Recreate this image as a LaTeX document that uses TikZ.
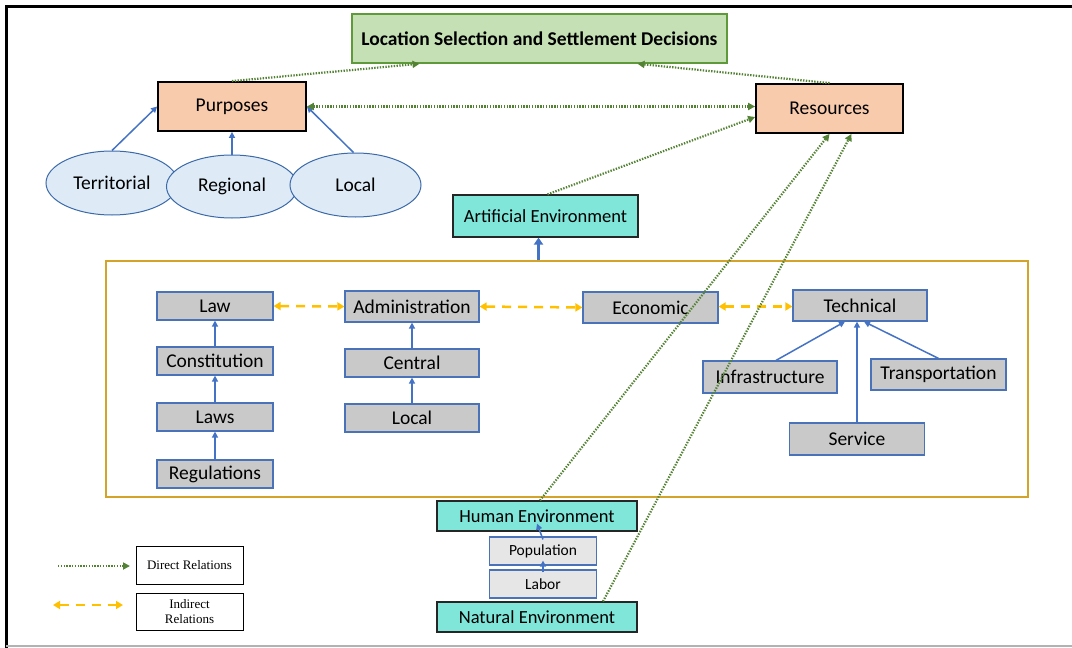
\documentclass[tikz,border=0pt]{standalone}
\usepackage{fontspec}
\setmainfont{Carlito}
\newfontfamily\legendfont{Liberation Serif}
\usetikzlibrary{arrows.meta,calc,shapes.geometric}
\definecolor{titlefill}{HTML}{C5E0B4}
\definecolor{titledraw}{HTML}{5E9A3A}
\definecolor{orangefill}{HTML}{F8CBAD}
\definecolor{ellfill}{HTML}{DEEBF7}
\definecolor{elldraw}{HTML}{3C6AA8}
\definecolor{tealfill}{HTML}{80E6DA}
\definecolor{grayfill}{HTML}{C9C9C9}
\definecolor{graydraw}{HTML}{4A72B8}
\definecolor{lightfill}{HTML}{E7E6E6}
\definecolor{goldline}{HTML}{D4A42A}
\definecolor{yellowarr}{HTML}{FFC000}
\definecolor{greenarr}{HTML}{548235}
\definecolor{bluearr}{HTML}{4472C4}
\tikzset{
  x=1pt,y=-1pt,
  titlebox/.style={draw=titledraw,fill=titlefill,line width=1.5pt,minimum width=375pt,minimum height=49pt,inner sep=0pt,font=\fontsize{19.5}{21}\selectfont\bfseries},
  orangebox/.style={draw=black,fill=orangefill,line width=1.8pt,minimum width=148pt,minimum height=49pt,inner sep=0pt,font=\fontsize{19.5}{21}\selectfont},
  ellnode/.style={ellipse,draw=elldraw,fill=ellfill,line width=1pt,minimum width=131pt,minimum height=64pt,inner sep=0pt,font=\fontsize{19.5}{21}\selectfont},
  tealbox/.style={draw=black!85,fill=tealfill,line width=1.2pt,minimum width=200pt,minimum height=30pt,inner sep=0pt,font=\fontsize{18.5}{20}\selectfont},
  graybox/.style={draw=graydraw,fill=grayfill,line width=1.2pt,minimum width=134pt,minimum height=31pt,inner sep=0pt,font=\fontsize{19.5}{21}\selectfont},
  lightbox/.style={draw=graydraw,fill=lightfill,line width=1.2pt,minimum width=107pt,minimum height=28pt,inner sep=0pt,font=\fontsize{15.5}{17}\selectfont},
  legbox/.style={draw=black,fill=white,line width=1pt,minimum width=107pt,minimum height=37pt,inner sep=0pt,align=center,font=\legendfont\fontsize{13}{15.5}\selectfont},
  bluearrow/.style={draw=bluearr,line width=1.5pt,-{Triangle[length=6pt,width=6pt]}},
  greenarrow/.style={draw=greenarr,line width=2.2pt,dash pattern=on 1.4pt off 1.4pt,-{Triangle[length=7pt,width=7pt]}},
  greenboth/.style={greenarrow,{Triangle[length=7pt,width=7pt]}-{Triangle[length=7pt,width=7pt]}},
  yellowarrow/.style={draw=yellowarr,line width=2.5pt,dash pattern=on 9pt off 7pt,{Triangle[length=7pt,width=8pt]}-{Triangle[length=7pt,width=8pt]}},
}
\begin{document}
\begin{tikzpicture}
\useasboundingbox (0,0) rectangle (1072,648);
% outer frame
\draw[black,line width=3pt] (6,648) -- (6,6) -- (1072,6);
\draw[black!30,line width=2pt] (6,646) -- (1072,646);

% top
\node[titlebox] (title) at (539.5,38.5) {Location Selection and Settlement Decisions};
\node[orangebox] (purposes) at (232,106.5) {Purposes};
\node[orangebox,minimum width=147pt] (resources) at (829.5,108.5) {Resources};

% ellipses
\node[ellnode,minimum width=132pt] (terr) at (112,183) {Territorial};
\node[ellnode,minimum height=63pt] (reg) at (232,186.5) {Regional};
\node[ellnode] (loc) at (355.5,185) {Local};

% artificial environment and frame
\node[tealbox,minimum width=185pt,minimum height=42pt] (artif) at (545.5,216) {Artificial Environment};
\node[draw=goldline,line width=1.2pt,minimum width=922pt,minimum height=236pt,inner sep=0pt] (frame) at (567,379) {};

% law column
\node[graybox,minimum width=116pt,minimum height=28pt] (law) at (215,306) {Law};
\node[graybox,minimum width=116pt,minimum height=28pt] (constit) at (215,361) {Constitution};
\node[graybox,minimum width=116pt,minimum height=28pt] (laws) at (215,417) {Laws};
\node[graybox,minimum width=116pt,minimum height=28pt] (regs) at (215,474) {Regulations};

% administration column
\node[graybox] (admin) at (412,306.5) {Administration};
\node[graybox,minimum height=28pt] (central) at (412,363) {Central};
\node[graybox,minimum height=28pt] (adlocal) at (412,418) {Local};

% economic / technical
\node[graybox,minimum width=135pt] (econ) at (650.5,307.5) {Economic};
\node[graybox] (tech) at (860,305.5) {Technical};
\node[graybox,minimum height=32pt] (infra) at (770,377) {Infrastructure};
\node[graybox,minimum width=135pt] (transp) at (938.5,374.5) {Transportation};
\node[graybox,minimum width=135pt,minimum height=32pt] (service) at (857,439) {Service};

% bottom
\node[tealbox] (human) at (537,516) {Human Environment};
\node[lightbox] (pop) at (543,551) {Population};
\node[lightbox] (labor) at (543,584) {Labor};
\node[tealbox] (natural) at (537,617) {Natural Environment};

% legend
\node[legbox,minimum height=38pt] (direct) at (189.5,565) {Direct Relations};
\node[legbox] (indirect) at (189.5,611.5) {Indirect\\Relations};
\coordinate (d1) at (58,566);
\coordinate (d2) at (130,566);
\coordinate (i1) at (53,605);
\coordinate (i2) at (123,605);
\draw[greenarrow] (d1) -- (d2);
\draw[yellowarrow] (i1) -- (i2);

% blue arrows
\draw[bluearrow] (terr.north) -- (purposes.west);
\draw[bluearrow] (reg.north) -- (reg.north |- purposes.south);
\draw[bluearrow] ([xshift=-2pt]loc.north) -- (purposes.east);
\draw[bluearrow,line width=3pt,-{Triangle[length=7pt,width=9pt]}] ([xshift=-7pt]frame.north -| artif.south) -- ([xshift=-7pt]artif.south);
\draw[bluearrow] (constit) -- (law);
\draw[bluearrow] (laws) -- (constit);
\draw[bluearrow] (regs) -- (laws);
\draw[bluearrow] (central) -- (admin);
\draw[bluearrow] (adlocal) -- (central);
\draw[bluearrow] ([xshift=6pt]infra.north) -- ([xshift=-15pt]tech.south);
\draw[bluearrow] (service.north) -- (service.north |- tech.south);
\draw[bluearrow] (transp.north) -- ([xshift=4pt]tech.south);
\draw[bluearrow] ([yshift=-3pt]labor.north) -- ([yshift=5pt]pop.south);
\draw[bluearrow] ([yshift=-3pt]pop.north) -- ([yshift=8pt]human.south);

% yellow dashed
\draw[yellowarrow] (law.east) -- (admin.west);
\draw[yellowarrow] (admin.east) -- (econ.west);
\draw[yellowarrow] ([yshift=1pt]econ.east) -- ([yshift=-1pt]tech.west);

% green dotted
\draw[greenarrow] (purposes.north) -- ([xshift=-120pt]title.south);
\draw[greenarrow] (resources.north) -- ([xshift=98pt]title.south);
\draw[greenboth] (purposes.east) -- (resources.west |- purposes.east);
\draw[greenarrow] ([xshift=2pt]artif.north) -- ([yshift=-8.5pt]resources.west);
\draw[greenarrow] ([xshift=3pt]human.north) -- (resources.south);
\draw[greenarrow] ([xshift=66pt]natural.north) -- ([xshift=22pt]resources.south);
\end{tikzpicture}
\end{document}
